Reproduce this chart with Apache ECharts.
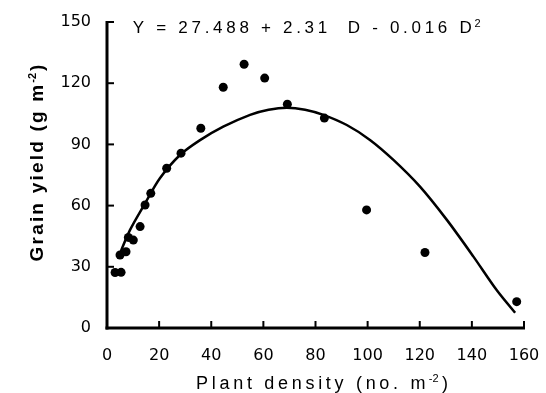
<!DOCTYPE html>
<html><head><meta charset="utf-8">
<script src="https://cdn.jsdelivr.net/npm/echarts@6/dist/echarts.min.js"></script>
<style>html,body{margin:0;padding:0;background:#fff}#c{width:546px;height:393px}</style>
</head><body><div id="c"></div>
<script>
// observed points
const obsDensity = [3.1, 5.4, 5.0, 7.3, 8.2, 10.1, 12.7, 14.6, 16.8, 22.9, 28.4, 36.0, 44.6, 52.6, 60.5, 69.2, 83.4, 99.6, 122.0, 157.2];
const obsYield   = [27.2, 27.3, 35.8, 37.4, 44.4, 43.1, 49.7, 60.3, 66.0, 78.3, 85.7, 97.9, 118.0, 129.3, 122.5, 109.7, 102.9, 57.9, 37.0, 12.9];
// fitted curve
const fitDensity = [4.5, 8.8, 14.6, 20.3, 28.0, 35.7, 44.6, 54.9, 62.0, 69.0, 76.0, 83.0, 92.0, 100.9, 109.9, 120.1, 130.4, 140.6, 149.5, 156.6];
const fitYield   = [35.0, 48.0, 61.1, 73.4, 84.8, 92.1, 98.7, 104.5, 107.0, 108.0, 107.0, 104.5, 99.5, 92.2, 82.4, 69.3, 53.0, 35.0, 18.6, 7.5];
// axes
const xMin = 0, xMax = 160, xStep = 20;
const yMin = 0, yMax = 150, yStep = 30;
const xTicks = [0, 20, 40, 60, 80, 100, 120, 140, 160];
const yTicks = [0, 30, 60, 90, 120, 150];
// texts
const equationMain = 'Y = 27.488 + 2.31  D - 0.016 D';
const equationSup = '2';
const xNameMain = 'Plant density (no. m';
const xNameSup = '-2';
const xNameEnd = ')';
const yNameMain = 'Grain yield (g m';
const yNameSup = '-2';
const yNameEnd = ')';

function spaced(str, st) {
  return str.split('').map(c => '{' + st + '|' + c + '}').join('');
}

const FONT = 'Liberation Sans, Arial, sans-serif';
const LABEL_FONT = 'DejaVu Sans, sans-serif';

function axis(min, max, step, margin) {
  return {
    type: 'value', min: min, max: max, interval: step,
    axisLine: {show: false},
    axisTick: {show: false},
    splitLine: {show: false},
    axisLabel: {show: true, margin: margin, color: '#000', fontSize: 16, fontFamily: LABEL_FONT}
  };
}

// axis frame and inward ticks, placed through the chart's own scales
function renderFrame(params, api) {
  const o = api.coord([xMin, yMin]);
  const xe = api.coord([xMax, yMin]);
  const ye = api.coord([xMin, yMax]);
  const line = (x1, y1, x2, y2, w) => ({
    type: 'line', shape: {x1: x1, y1: y1, x2: x2, y2: y2},
    style: {stroke: '#000', lineWidth: w}
  });
  const children = [
    line(o[0] - 1.5, o[1], xe[0] + 1, xe[1], 3),
    line(o[0], o[1] + 1.5, ye[0], ye[1] - 1, 3)
  ];
  xTicks.forEach(v => {
    const p = api.coord([v, yMin]);
    children.push(line(p[0], p[1], p[0], p[1] - 7, 2));
  });
  yTicks.forEach(v => {
    const p = api.coord([xMin, v]);
    children.push(line(p[0], p[1], p[0] + 7, p[1], 2));
  });
  return {type: 'group', children: children};
}

const chart = echarts.init(document.getElementById('c'));
chart.setOption({
  animation: false,
  backgroundColor: '#fff',
  grid: {left: 107, right: 22, top: 22, bottom: 65},
  xAxis: axis(xMin, xMax, xStep, 20),
  yAxis: axis(yMin, yMax, yStep, 16),
  graphic: [
    {
      type: 'text', left: 131, top: 18,
      style: {
        text: spaced(equationMain, 'e') + '{s|' + equationSup + '}',
        rich: {
          e: {fontSize: 17, fontFamily: FONT, fill: '#000', padding: [0, 1.85], lineHeight: 24},
          s: {fontSize: 11, fontFamily: FONT, fill: '#000', padding: [0, 1, 10, 1]}
        }
      }
    },
    {
      type: 'text', x: 322, y: 384,
      style: {
        align: 'center', verticalAlign: 'middle',
        text: spaced(xNameMain, 'n') + '{s|' + xNameSup + '}' + spaced(xNameEnd, 'n'),
        rich: {
          n: {fontSize: 18, fontFamily: FONT, fill: '#000', padding: [0, 1.85], lineHeight: 24},
          s: {fontSize: 11, fontFamily: FONT, fill: '#000', padding: [0, 1.5, 10, 1.5]}
        }
      }
    },
    {
      type: 'text', x: 38, y: 163, rotation: Math.PI / 2,
      style: {
        align: 'center', verticalAlign: 'middle',
        text: spaced(yNameMain, 'n') + '{s|' + yNameSup + '}' + spaced(yNameEnd, 'n'),
        rich: {
          n: {fontSize: 19, fontFamily: FONT, fontWeight: 'bold', fill: '#000', padding: [0, 1.1], lineHeight: 24},
          s: {fontSize: 11, fontFamily: FONT, fontWeight: 'bold', fill: '#000', padding: [0, 1, 10, 1]}
        }
      }
    }
  ],
  series: [
    {
      type: 'custom', renderItem: renderFrame, data: [[xMin, yMin]],
      clip: false, silent: true, z: 1
    },
    {
      type: 'line', smooth: 0.3, showSymbol: false,
      data: fitDensity.map((d, i) => [d, fitYield[i]]),
      lineStyle: {color: '#000', width: 2.5}, z: 2
    },
    {
      type: 'scatter', symbol: 'circle', symbolSize: 9,
      data: obsDensity.map((d, i) => [d, obsYield[i]]),
      itemStyle: {color: '#000', opacity: 1}, z: 3
    }
  ]
});
</script>
</body></html>
